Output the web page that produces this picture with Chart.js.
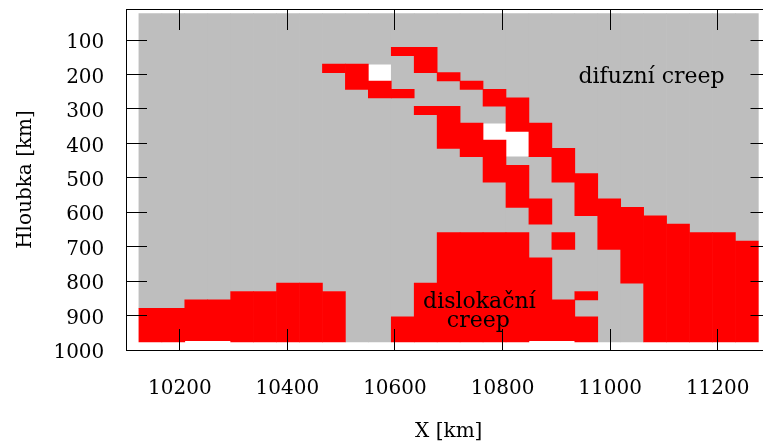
<!DOCTYPE html>
<html>
<head>
<meta charset="utf-8">
<title>Mechanismus deformace</title>
<script src="https://cdn.jsdelivr.net/npm/chart.js@4/dist/chart.umd.min.js"></script>
<style>
  html, body { margin: 0; padding: 0; background: #fff; overflow: hidden; }
  canvas { display: block; }
</style>
</head>
<body>
<canvas id="creep" width="800" height="447"></canvas>
<script>
// Dominant deformation mechanism on the model mesh, one string per row (top to bottom),
// one character per column: '.' diffusion creep, 'x' dislocation creep, 'o' no value
const mechanism = [
  '...........................',
  '...........................',
  '...........................',
  '...........................',
  '...........xx..............',
  '............x..............',
  '........xxo.x..............',
  '.........xo..x.............',
  '.........xx...x............',
  '..........xx...x...........',
  '...............xx..........',
  '............xx..x..........',
  '.............x..x..........',
  '.............xxoxx.........',
  '.............xxoox.........',
  '.............xxxox.........',
  '..............xxoxx........',
  '...............x..x........',
  '...............xx.x........',
  '...............xx.xx.......',
  '................x..x.......',
  '................x..x.......',
  '................xx.xx......',
  '.................x.xxx.....',
  '.................x..xxx....',
  '....................xxxx...',
  '.............xxxx.x.xxxxxx.',
  '.............xxxx.x.xxxxxxx',
  '.............xxxx....xxxxxx',
  '.............xxxxx...xxxxxx',
  '.............xxxxx...xxxxxx',
  '.............xxxxx...xxxxxx',
  '......xx....xxxxxx....xxxxx',
  '....xxxxx...xxxxxx.x..xxxxx',
  '..xxxxxxx...xxxxxxx...xxxxx',
  'xxxxxxxxx...xxxxxxx...xxxxx',
  'xxxxxxxxx..xxxxxxxxx..xxxxx',
  'xxxxxxxxx..xxxxxxxxx..xxxxx',
  'xxxxxxxxx..xxxxxxxxx..xxxxx'
];

// mesh geometry [km]
const meshLeft = 10124;
const cellWidth = 42.65;
const meshTop = 23.6;
const cellHeight = 24.44;
// columns whose last element ends a little higher
const shallowColumns = [2, 3, 17, 18];
const shallowBottom = 973;

const xTicks = [10200, 10400, 10600, 10800, 11000, 11200];
const depthTicks = [100, 200, 300, 400, 500, 600, 700, 800, 900, 1000];

const regionLabels = [
  { text: 'difuzní creep', x: 11077, y: 226 },
  { text: 'dislokační', x: 10757, y: 879 },
  { text: 'creep', x: 10755, y: 933 }
];

// turn the cell map into vertical runs, one floating bar per run
function runsOf(symbol) {
  const bars = [];
  const rows = mechanism.length;
  const cols = mechanism[0].length;
  for (let c = 0; c < cols; c++) {
    const x = meshLeft + (c + 0.5) * cellWidth;
    let r = 0;
    while (r < rows) {
      if (mechanism[r][c] !== symbol) { r++; continue; }
      const start = r;
      while (r < rows && mechanism[r][c] === symbol) r++;
      let bottom = meshTop + r * cellHeight;
      if (r === rows && shallowColumns.includes(c)) bottom = shallowBottom;
      bars.push({ x: x, y: [meshTop + start * cellHeight, bottom] });
    }
  }
  return bars;
}

const regionText = {
  id: 'regionText',
  afterDatasetsDraw(chart) {
    const { ctx, scales: { x, y } } = chart;
    ctx.save();
    ctx.font = '22px "DejaVu Serif"';
    ctx.fillStyle = '#000';
    ctx.textAlign = 'center';
    ctx.textBaseline = 'alphabetic';
    regionLabels.forEach(l => {
      ctx.fillText(l.text, x.getPixelForValue(l.x), y.getPixelForValue(l.y));
    });
    ctx.restore();
  }
};

Chart.defaults.font.family = '"DejaVu Serif", serif';
Chart.defaults.font.size = 20;
Chart.defaults.color = '#000';

const tickGrid = {
  drawOnChartArea: false,
  tickLength: -21,
  tickColor: '#000',
  tickWidth: 1,
  offset: false,
  z: 1
};
const frame = { display: true, color: '#000', width: 1, z: 1 };
const setTicks = values => scale => { scale.ticks = values.map(v => ({ value: v })); };
// fixed axis box size; labels never push the plot area inwards
const boxSize = (prop, size) => scale => {
  scale[prop] = size;
  scale.paddingTop = scale.paddingBottom = scale.paddingLeft = scale.paddingRight = 0;
};

new Chart(document.getElementById('creep'), {
  type: 'bar',
  data: {
    datasets: [
      { label: 'dislokační creep', data: runsOf('x'), backgroundColor: '#ff0000' },
      { label: 'difuzní creep', data: runsOf('.'), backgroundColor: '#bebebe' }
    ]
  },
  options: {
    responsive: false,
    animation: false,
    events: [],
    grouped: false,
    barPercentage: 1,
    categoryPercentage: 1,
    borderWidth: 0,
    layout: { padding: 0 },
    plugins: { legend: { display: false }, tooltip: { enabled: false } },
    scales: {
      x: {
        type: 'linear', position: 'bottom', min: 10100, max: 11300, offset: false,
        afterBuildTicks: setTicks(xTicks),
        afterFit: boxSize('height', 97),
        grid: tickGrid, border: frame,
        ticks: { padding: 48, maxRotation: 0, autoSkip: false, callback: v => String(v) },
        title: { display: true, text: 'X [km]', padding: { top: 0, bottom: 3 } }
      },
      x2: {
        type: 'linear', position: 'top', min: 10100, max: 11300, offset: false,
        afterBuildTicks: setTicks(xTicks),
        afterFit: boxSize('height', 9),
        grid: tickGrid, border: frame,
        ticks: { display: false }
      },
      y: {
        type: 'linear', position: 'left', min: 10, max: 1000, reverse: true,
        afterBuildTicks: setTicks(depthTicks),
        afterFit: boxSize('width', 126),
        grid: tickGrid, border: frame,
        ticks: { padding: 42.7, labelOffset: 3, autoSkip: false, callback: v => String(v) },
        title: { display: true, text: 'Hloubka [km]', padding: { top: 14, bottom: 0 } }
      },
      y2: {
        type: 'linear', position: 'right', min: 10, max: 1000, reverse: true,
        afterBuildTicks: setTicks(depthTicks),
        afterFit: boxSize('width', 28.5),
        grid: tickGrid, border: frame,
        ticks: { display: false }
      }
    }
  },
  plugins: [regionText]
});
</script>
</body>
</html>
